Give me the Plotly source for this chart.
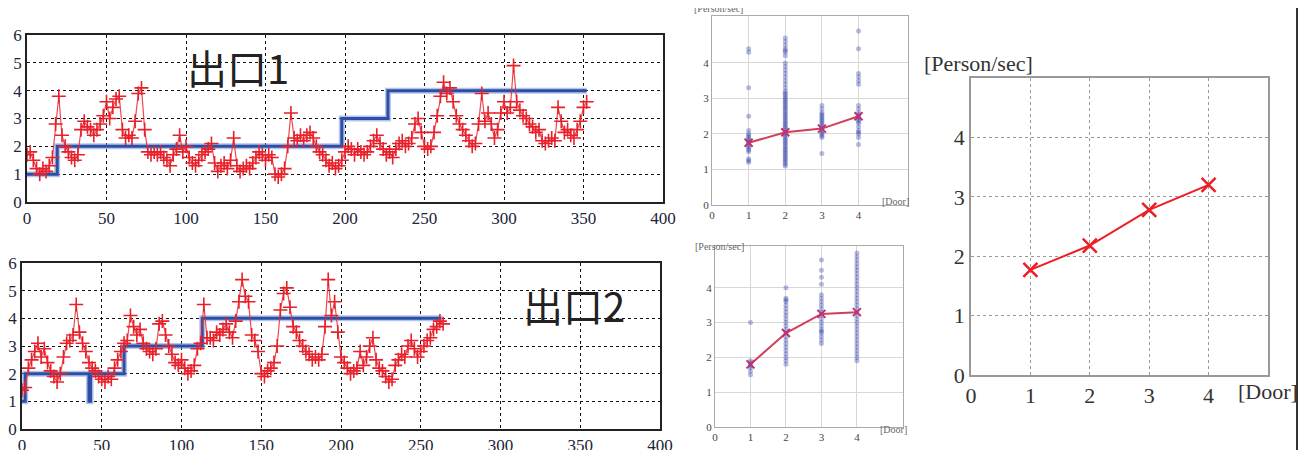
import plotly.graph_objects as go

OFF = 8  # page body margin in the browser
W, H = 1314 - OFF, 450 - OFF

# ---------------- data ----------------
# Exit 1 time series (every 2 s)
t1 = list(range(0, 353, 2))
flow1 = [1.7, 1.8, 1.5, 1.2, 1.0, 1.2, 1.1, 1.3, 1.6, 2.8, 3.8, 2.4, 2.0, 1.8, 1.6, 1.5, 1.7, 2.6, 2.9, 2.7,
         2.6, 2.4, 2.6, 2.8, 3.1, 3.6, 3.0, 3.4, 3.7, 3.8, 2.6, 2.3, 2.4, 2.3, 2.9, 3.9, 4.1, 2.6, 1.8, 1.7,
         1.8, 1.7, 1.8, 1.6, 1.5, 1.3, 1.7, 1.9, 2.4, 1.8, 2.0, 1.6, 1.4, 1.3, 1.5, 1.7, 1.8, 1.9, 2.1, 1.4,
         1.1, 1.3, 1.4, 1.2, 1.5, 2.3, 1.3, 1.1, 1.2, 1.3, 1.2, 1.4, 1.6, 1.8, 1.7, 1.5, 1.7, 1.6, 1.0, 0.9,
         1.0, 1.2, 2.0, 3.2, 2.3, 2.2, 2.4, 2.2, 2.4, 2.5, 2.3, 2.0, 1.8, 1.7, 1.5, 1.3, 1.4, 1.2, 1.3, 1.5,
         1.8, 2.0, 1.9, 1.7, 1.9, 1.8, 1.7, 1.8, 2.0, 2.2, 2.4, 2.1, 1.9, 1.7, 1.8, 1.6, 1.9, 2.1, 2.2, 2.0,
         2.1, 2.3, 2.8, 3.0, 2.5, 2.0, 1.9, 2.0, 2.5, 3.1, 3.8, 4.3, 3.9, 4.1, 3.6, 3.1, 2.8, 2.6, 2.4, 2.2,
         2.0, 2.1, 2.8, 3.9, 2.9, 3.2, 2.8, 2.3, 2.6, 3.2, 3.6, 3.2, 3.4, 4.9, 3.6, 3.3, 3.1, 3.0, 2.8, 2.7,
         2.5, 2.6, 2.2, 2.1, 2.2, 2.3, 2.2, 3.4, 2.9, 2.5, 2.6, 2.4, 2.3, 2.6, 2.9, 3.4, 3.6]
step1_t = [0, 19, 198, 227, 352]
step1_v = [1, 2, 3, 4, 4]

# Exit 2 time series (every 2 s)
t2 = list(range(0, 265, 2))
flow2 = [1.4, 1.5, 2.2, 2.5, 2.8, 3.1, 2.6, 2.9, 2.4, 2.1, 1.9, 1.7, 2.0, 2.6, 3.1, 3.2, 3.4, 4.5, 3.5, 3.1,
         2.8, 2.4, 2.2, 2.1, 1.9, 1.8, 1.7, 1.9, 1.8, 2.2, 2.5, 2.8, 3.1, 3.2, 4.1, 3.7, 3.4, 3.6, 3.1, 2.9,
         2.8, 2.7, 2.9, 3.8, 3.9, 3.4, 3.0, 2.7, 2.4, 2.3, 2.5, 2.2, 2.0, 2.1, 2.3, 2.9, 3.1, 4.5, 3.3, 3.3,
         3.2, 3.5, 3.4, 3.6, 3.8, 3.5, 3.3, 3.9, 4.6, 5.4, 4.8, 4.6, 3.4, 3.2, 2.8, 2.0, 1.9, 2.1, 2.2, 2.4,
         3.0, 4.3, 4.9, 5.1, 4.4, 3.7, 3.5, 3.2, 3.0, 2.8, 2.7, 2.5, 2.6, 2.5, 2.7, 3.7, 5.4, 4.1, 4.6, 3.5,
         2.6, 2.4, 2.2, 2.0, 2.1, 2.2, 2.8, 2.3, 2.6, 3.0, 3.3, 2.5, 2.2, 2.1, 1.9, 1.7, 1.8, 2.3, 2.5, 2.7,
         2.6, 3.0, 3.2, 2.9, 2.6, 2.8, 3.0, 3.2, 3.3, 3.6, 3.7, 3.9, 3.8]
step2_t = [0, 2, 42, 43, 64, 113, 263]
step2_v = [1, 2, 1, 2, 3, 4, 4]

time_ticks = [0, 50, 100, 150, 200, 250, 300, 350, 400]

# Door scatter (upper middle)
doors = [1, 2, 3, 4]
top_d1 = [1.2, 1.25, 1.3, 1.5, 1.55, 1.6, 1.65, 1.7, 1.75, 1.8, 1.85, 1.9, 1.95, 2.0, 2.1, 2.5, 3.3, 4.3, 4.4]
top_d2 = [1.1, 1.15, 1.2, 1.25, 1.3, 1.35, 1.4, 1.45, 1.5, 1.55, 1.6, 1.65, 1.7, 1.75, 1.8, 1.85, 1.9, 1.95,
          2.0, 2.05, 2.1, 2.15, 2.2, 2.25, 2.3, 2.35, 2.4, 2.45, 2.5, 2.55, 2.6, 2.65, 2.7, 2.75, 2.8, 2.85,
          2.9, 2.95, 3.0, 3.05, 3.1, 3.15, 3.2, 3.3, 3.4, 3.5, 3.6, 3.7, 3.8, 3.9, 4.0, 4.2, 4.3, 4.35, 4.4,
          4.5, 4.6, 4.7]
top_d3 = [1.45, 1.9, 1.95, 2.0, 2.05, 2.1, 2.15, 2.2, 2.25, 2.3, 2.35, 2.4, 2.45, 2.5, 2.55, 2.6, 2.7, 2.8]
top_d4 = [1.7, 1.9, 2.0, 2.05, 2.1, 2.2, 2.3, 2.35, 2.4, 2.45, 2.5, 2.55, 2.6, 2.7, 2.8, 3.4, 3.5, 3.6, 3.7,
          4.4, 4.9]
top_mean = [1.75, 2.05, 2.15, 2.5]

# Door scatter (lower middle)
bot_d1 = [1.5, 1.6, 1.7, 1.75, 1.8, 1.85, 1.9, 3.0]
bot_d2 = [1.8, 1.9, 2.0, 2.1, 2.2, 2.3, 2.4, 2.5, 2.6, 2.7, 2.8, 2.9, 3.0, 3.1, 3.2, 3.3, 3.4, 3.5, 3.6,
          3.65, 3.7, 4.0]
bot_d3 = [2.4, 2.5, 2.6, 2.7, 2.75, 2.8, 2.9, 3.0, 3.1, 3.2, 3.3, 3.4, 3.5, 3.6, 3.7, 3.8, 4.1, 4.3,
          4.5, 4.8]
bot_d4 = [1.9, 2.0, 2.1, 2.2, 2.3, 2.4, 2.5, 2.6, 2.7, 2.8, 2.9, 3.0, 3.1, 3.2, 3.3, 3.4, 3.5, 3.6, 3.7,
          3.8, 3.9, 4.0, 4.1, 4.2, 4.3, 4.4, 4.5, 4.6, 4.7, 4.8, 4.9, 5.0]
bot_mean = [1.8, 2.7, 3.25, 3.3]

# Summary (right)
sum_mean = [1.77, 2.18, 2.78, 3.2]

# ---------------- helpers ----------------
def px_x(p):
    return (p - OFF) / W

def px_y(p):
    return 1 - (p - OFF) / H

RED = '#e8202a'
BLUE = '#2d4ea5'
serif = 'Liberation Serif, Times New Roman, serif'

fig = go.Figure()

def add_series(t, v, st, sv, xa, ya):
    fig.add_trace(go.Scatter(x=st, y=sv, mode='lines', line=dict(color='rgba(120,150,215,0.55)', width=6, shape='hv'),
                             xaxis=xa, yaxis=ya, showlegend=False, hoverinfo='skip'))
    fig.add_trace(go.Scatter(x=st, y=sv, mode='lines', line=dict(color=BLUE, width=3, shape='hv'),
                             xaxis=xa, yaxis=ya, showlegend=False))
    fig.add_trace(go.Scatter(x=t, y=v, mode='lines+markers',
                             line=dict(color='rgba(235,40,50,0.85)', width=1.2),
                             marker=dict(symbol='cross-thin', size=10, line=dict(width=1.6, color=RED), color=RED),
                             xaxis=xa, yaxis=ya, showlegend=False))

add_series(t1, flow1, step1_t, step1_v, 'x', 'y')
add_series(t2, flow2, step2_t, step2_v, 'x2', 'y2')

def add_door(cols, mean, xa, ya):
    for d, vals in zip(doors, cols):
        fig.add_trace(go.Scatter(x=[d] * len(vals), y=vals, mode='markers',
                                 marker=dict(symbol='circle', size=5, color='rgba(45,60,170,0.35)',
                                             line=dict(width=0)),
                                 xaxis=xa, yaxis=ya, showlegend=False))
    fig.add_trace(go.Scatter(x=doors, y=mean, mode='lines+markers',
                             line=dict(color='#d0405a', width=2),
                             marker=dict(symbol='x-thin', size=8, line=dict(width=2, color='#c03070')),
                             xaxis=xa, yaxis=ya, showlegend=False))

add_door([top_d1, top_d2, top_d3, top_d4], top_mean, 'x3', 'y3')
add_door([bot_d1, bot_d2, bot_d3, bot_d4], bot_mean, 'x4', 'y4')

fig.add_trace(go.Scatter(x=doors, y=sum_mean, mode='lines+markers',
                         line=dict(color='#ee1c24', width=2),
                         marker=dict(symbol='x-thin', size=14, line=dict(width=2.5, color='#ee1c24')),
                         xaxis='x5', yaxis='y5', showlegend=False))

# ---------------- axes ----------------
def ts_axes(xd, yd, anchor_x, anchor_y):
    common = dict(showline=True, linecolor='#222', linewidth=1.5, mirror=True, ticks='', automargin=False,
                  showgrid=True, gridcolor='#111', gridwidth=1.2, griddash='3px,3px', zeroline=False,
                  tickfont=dict(family=serif, size=17, color='#1d2438'))
    xa = dict(domain=xd, range=[0, 400], tickvals=time_ticks, anchor=anchor_y, **common)
    ya = dict(domain=yd, range=[0, 6], tickvals=[0, 1, 2, 3, 4, 5, 6], anchor=anchor_x, **common)
    return xa, ya

xa1, ya1 = ts_axes([px_x(27), px_x(663)], [px_y(202), px_y(35)], 'x', 'y')
xa2, ya2 = ts_axes([px_x(22), px_x(660)], [px_y(429), px_y(263)], 'x2', 'y2')

def door_axes(xd, yd, xr, yr, anchor_x, anchor_y):
    common = dict(showline=True, linecolor='#aaa', linewidth=1, mirror=True, ticks='', automargin=False,
                  showgrid=True, gridcolor='#d8d8d8', gridwidth=1, zeroline=False,
                  tickfont=dict(family=serif, size=11, color='#444'))
    xa = dict(domain=xd, range=xr, tickvals=[0, 1, 2, 3, 4], anchor=anchor_y, **common)
    ya = dict(domain=yd, range=yr, tickvals=[0, 1, 2, 3, 4], anchor=anchor_x, **common)
    return xa, ya

xa3, ya3 = door_axes([px_x(712), px_x(908)], [px_y(205), px_y(16)], [0, 5.35], [0, 5.32], 'x3', 'y3')
xa4, ya4 = door_axes([px_x(715), px_x(903)], [px_y(427), px_y(246)], [0, 5.3], [0, 5.2], 'x4', 'y4')

common5 = dict(showline=True, linecolor='#999', linewidth=1.5, mirror=True, ticks='', automargin=False,
               showgrid=True, gridcolor='#999', gridwidth=1.3, griddash='dot', zeroline=False,
               tickfont=dict(family=serif, size=22, color='#333'))
xa5 = dict(domain=[px_x(971), px_x(1268)], range=[0, 5], tickvals=[0, 1, 2, 3, 4], anchor='y5', **common5)
ya5 = dict(domain=[px_y(375), px_y(78)], range=[0, 5], tickvals=[0, 1, 2, 3, 4], anchor='x5', **common5)

def note(text, x, y, size, color, family):
    return dict(text=text, x=px_x(x), y=px_y(y), xref='paper', yref='paper', showarrow=False,
                xanchor='center', yanchor='middle', font=dict(family=family, size=size, color=color))

annotations = [
    note('出口1', 238, 67, 40, '#222', 'Noto Sans CJK JP'),
    note('出口2', 574, 305, 40, '#222', 'Noto Sans CJK JP'),
    note('[Person/sec]', 718, 9, 10, '#666', serif),
    note('[Door]', 895, 201, 10, '#666', serif),
    note('[Person/sec]', 720, 247, 10, '#666', serif),
    note('[Door]', 894, 429, 10, '#666', serif),
    note('[Person/sec]', 978, 63, 22, '#333', serif),
    note('[Door]', 1268, 391, 22, '#333', serif),
]

shapes = [
    dict(type='line', xref='paper', yref='paper', x0=px_x(1297), x1=px_x(1297), y0=0, y1=1,
         line=dict(color='#333', width=2)),
]

fig.update_layout(
    width=W, height=H, autosize=False,
    margin=dict(l=0, r=0, t=0, b=0, autoexpand=False),
    paper_bgcolor='white', plot_bgcolor='white',
    xaxis=xa1, yaxis=ya1, xaxis2=xa2, yaxis2=ya2,
    xaxis3=xa3, yaxis3=ya3, xaxis4=xa4, yaxis4=ya4,
    xaxis5=xa5, yaxis5=ya5,
    annotations=annotations, shapes=shapes,
)

fig.write_html('out.html')
